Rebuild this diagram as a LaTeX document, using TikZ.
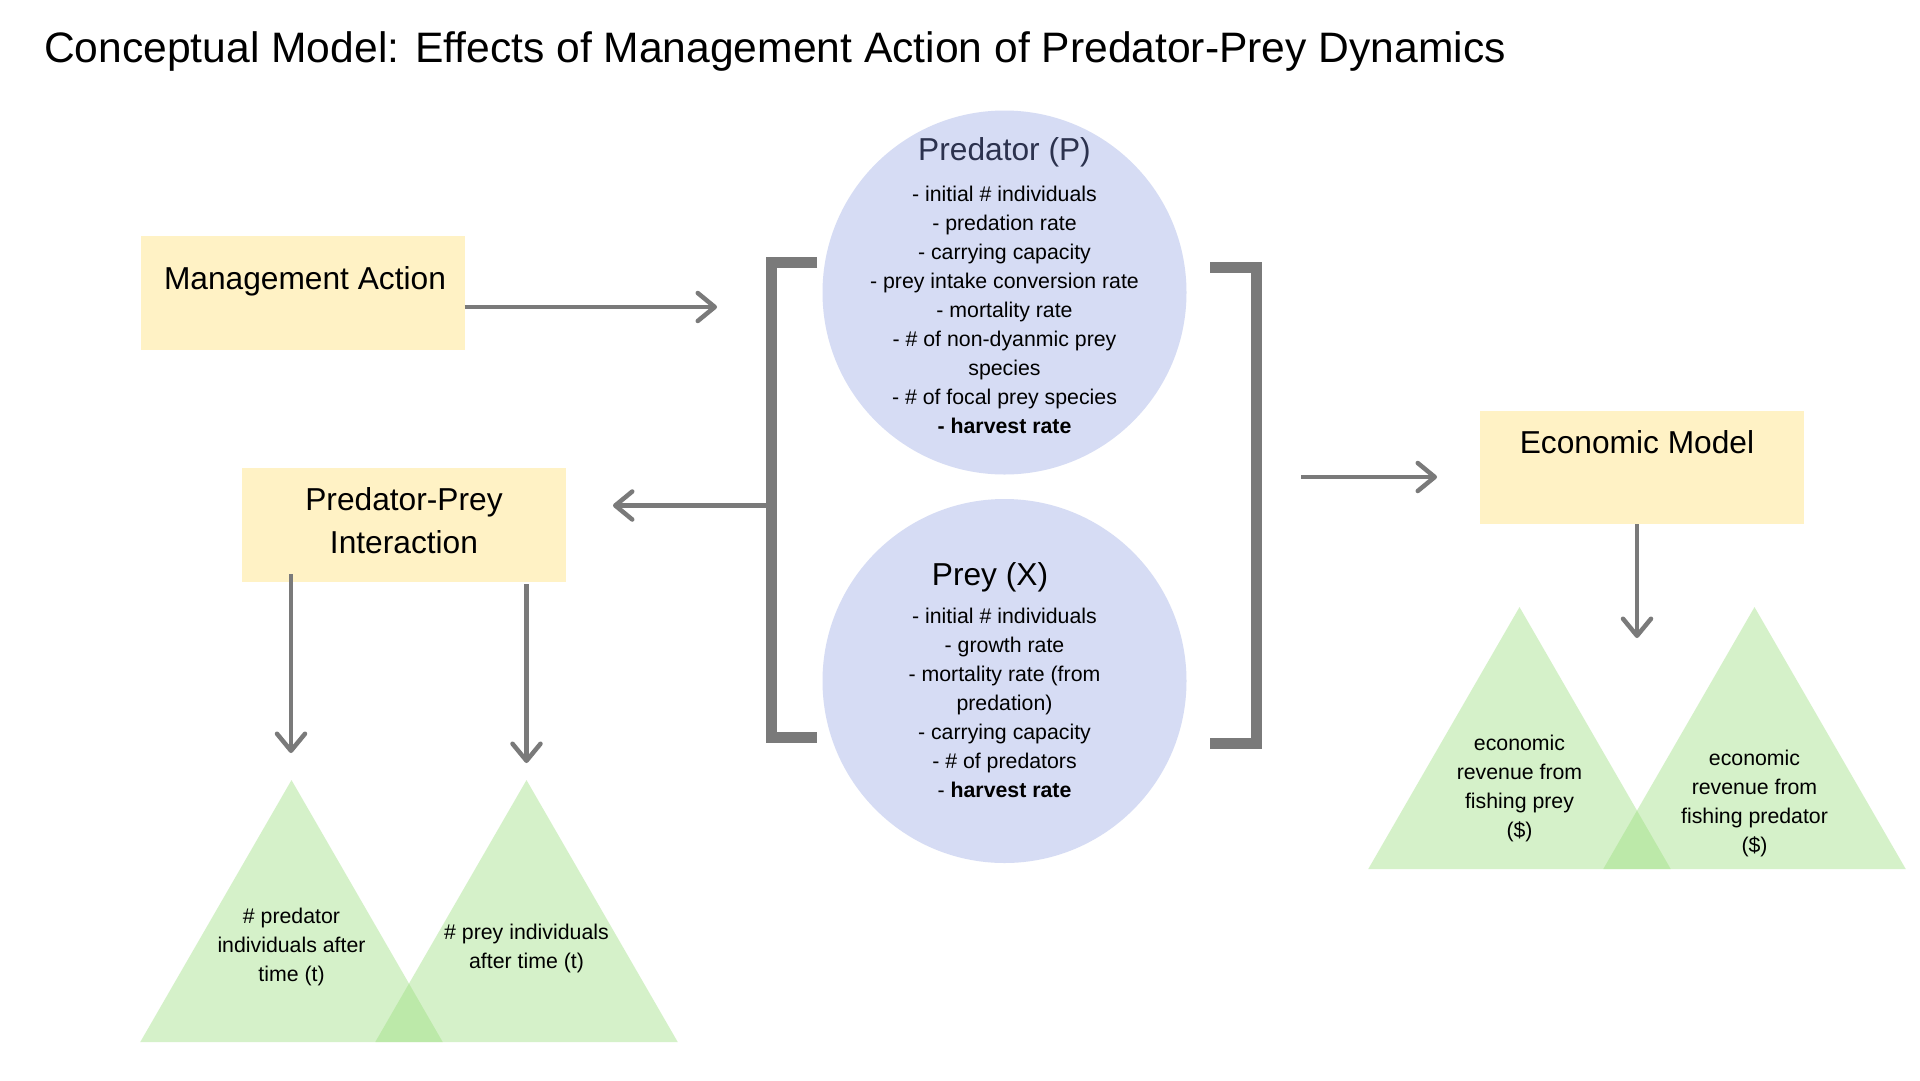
\documentclass[tikz,border=0pt]{standalone}
\usepackage{fontspec}
\setmainfont{Liberation Sans}
\usetikzlibrary{arrows.meta,shapes.geometric}
\definecolor{boxyellow}{RGB}{255,242,197}
\definecolor{circblue}{RGB}{214,220,244}
\definecolor{lgray}{RGB}{122,122,122}
\definecolor{navytxt}{RGB}{44,50,78}
\definecolor{tgreen}{RGB}{152,222,122}
\newcommand\mlines[1]{\begin{tabular}[t]{@{}c@{}}#1\end{tabular}}
\begin{document}
\begin{tikzpicture}[x=1pt,y=-1pt,
  box/.style={fill=boxyellow, minimum width=324pt, minimum height=114pt, inner sep=0pt},
  circ/.style={circle, fill=circblue, minimum size=364pt, inner sep=0pt},
  tri/.style={regular polygon, regular polygon sides=3, minimum size=349.3pt, inner sep=0pt, fill=tgreen, fill opacity=0.4},
  bigtxt/.style={inner sep=0pt, anchor=base, font=\fontsize{31.7}{43.5}\selectfont},
  smalltxt/.style={inner sep=0pt, anchor=base, font=\fontsize{21.3}{29}\selectfont},
  conn/.style={draw=lgray, line width=4.5pt, -{Straight Barb[length=17pt,width=28pt,line cap=round,line join=round]}},
  brk/.style={draw=lgray, line width=11pt, line cap=butt, line join=miter},
]
\fill[white] (0,0) rectangle (1920,1080);
\useasboundingbox (0,0) rectangle (1920,1080);

% title
\node[anchor=base west, inner sep=0pt, font=\fontsize{42.6}{50}\selectfont] (title) at (44,62)
  {Conceptual Model: Effects of Management Action of Predator-Prey Dynamics};

% boxes
\node[box] (mgmt) at (302.5,293) {};
\node[box] (ppi) at (404,525) {};
\node[box, minimum height=113pt] (econ) at (1642,467.5) {};

% circles
\node[circ] (pred) at (1004.5,292.5) {};
\node[circ] (prey) at (1004.5,681) {};

% triangles
\node[tri] (tri1) at (291.5,954.7) {};
\node[tri] (tri2) at (526.5,954.7) {};
\node[tri] (tri3) at (1519.5,781.7) {};
\node[tri] (tri4) at (1754.5,781.7) {};

% brackets
\coordinate (lbrTop) at (817,262.5);
\coordinate (lbrBot) at (817,737.5);
\draw[brk] (lbrTop) -| (771.5,737.5) -- (lbrBot);
\coordinate (rbrTop) at (1210,267);
\coordinate (rbrBot) at (1210,743.5);
\draw[brk] (rbrTop) -| (1256.5,743.5) -- (rbrBot);

% connectors
\coordinate (mgmtArrowEnd) at (717,307);
\draw[conn] (mgmtArrowEnd -| mgmt.east) -- (mgmtArrowEnd);
\coordinate (lbrOut) at (766,505.5);
\coordinate (ppiArrowEnd) at (613,505.5);
\draw[conn] (lbrOut) -- (ppiArrowEnd);
\coordinate (rbrOut) at (1301,477);
\coordinate (econArrowEnd) at (1437,477);
\draw[conn] (rbrOut) -- (econArrowEnd);
\coordinate (ppiL) at (291,574);
\coordinate (ppiLEnd) at (291,753);
\draw[conn] (ppiL) -- (ppiLEnd);
\coordinate (ppiR) at (526.5,584);
\coordinate (ppiREnd) at (526.5,763);
\draw[conn] (ppiR) -- (ppiREnd);
\coordinate (econOut) at (1637,524);
\coordinate (econDownEnd) at (1637,638);
\draw[conn] (econOut) -- (econDownEnd);

% texts
\node[bigtxt] (mgmttxt) at (305,289.3) {Management Action};
\node[bigtxt] (ppitxt) at (404,510) {\mlines{Predator-Prey\\Interaction}};
\node[bigtxt] (econtxt) at (1637,453.3) {Economic Model};
\node[bigtxt, text=navytxt] (predtitle) at (1004.5,160) {Predator (P)};
\node[bigtxt] (preytitle) at (990,585) {Prey (X)};
\node[smalltxt] (predtxt) at (1004.5,201.5) {\mlines{- initial \# individuals\\- predation rate\\- carrying capacity\\- prey intake conversion rate\\- mortality rate\\- \# of non-dyanmic prey\\species\\- \# of focal prey species\\\textbf{- harvest rate}}};
\node[smalltxt] (preytxt) at (1004.5,623.3) {\mlines{- initial \# individuals\\- growth rate\\- mortality rate (from\\predation)\\- carrying capacity\\- \# of predators\\- \textbf{harvest rate}}};
\node[smalltxt] (tri1txt) at (291.5,923.5) {\mlines{\# predator\\individuals after\\time (t)}};
\node[smalltxt] (tri2txt) at (526.5,939) {\mlines{\# prey individuals\\after time (t)}};
\node[smalltxt] (tri3txt) at (1519.5,750.7) {\mlines{economic\\revenue from\\fishing prey\\(\$)}};
\node[smalltxt] (tri4txt) at (1754.5,765.7) {\mlines{economic\\revenue from\\fishing predator\\(\$)}};
\end{tikzpicture}
\end{document}
